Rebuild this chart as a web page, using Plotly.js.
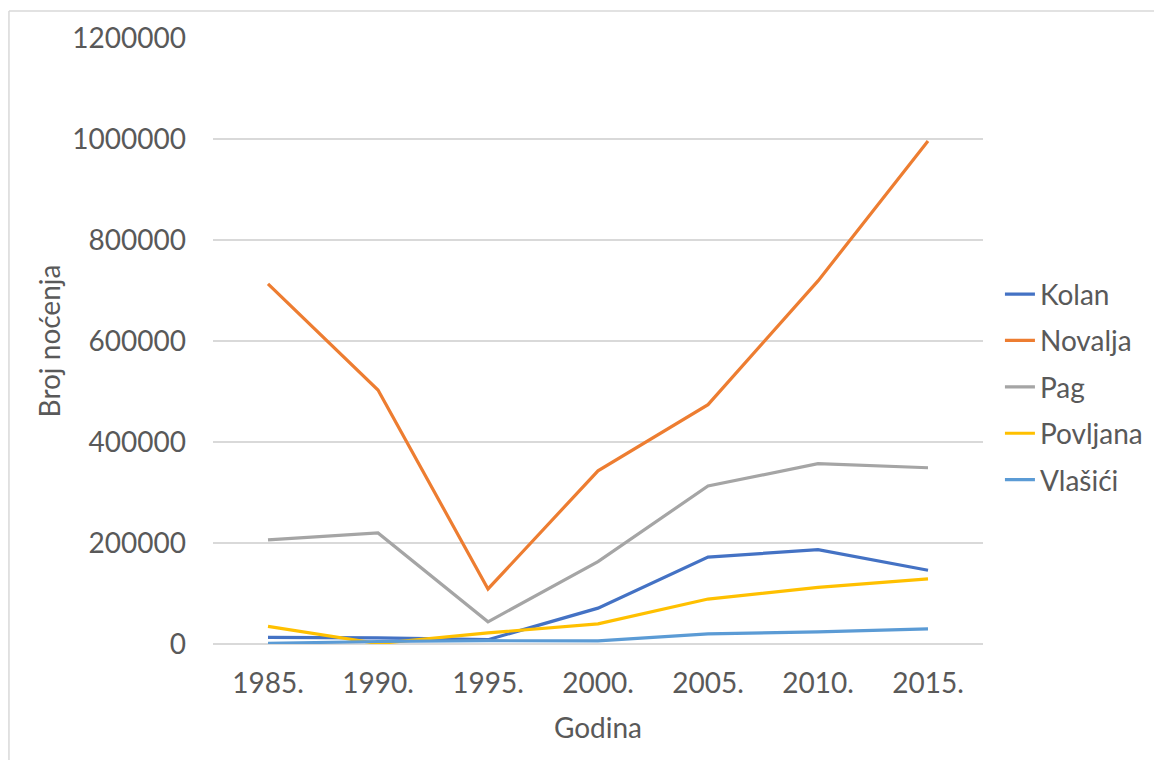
<!DOCTYPE html>
<html>
<head>
<meta charset="utf-8">
<script src="https://cdn.plot.ly/plotly-3.0.1.min.js"></script>
<style>html,body{margin:0;padding:0;background:#fff;}#chart{width:1154px;height:760px;}</style>
</head>
<body>
<div id="chart"></div>
<script>
const years = ["1985.", "1990.", "1995.", "2000.", "2005.", "2010.", "2015."];
const kolan    = [13000, 12000, 8500, 71000, 172000, 187000, 146000];
const novalja  = [713000, 503000, 109000, 343000, 474000, 719000, 996000];
const pag      = [206000, 220000, 44000, 163000, 313000, 357000, 349000];
const povljana = [35000, 1000, 22000, 40000, 89000, 112000, 129000];
const vlasici  = [1500, 5000, 6500, 6000, 20000, 24000, 30000];

const seriesNames = ["Kolan", "Novalja", "Pag", "Povljana", "Vlašići"];
const seriesData = [kolan, novalja, pag, povljana, vlasici];
const colors = ["#4472C4", "#ED7D31", "#A5A5A5", "#FFC000", "#5B9BD5"];

const font = "Lato, 'Open Sans', sans-serif";
const traces = seriesNames.map((n, i) => ({
  type: "scatter", mode: "lines", name: n, x: years, y: seriesData[i],
  legendgroup: "g" + i,
  line: {color: colors[i], width: 3.2}
}));

const layout = {
  width: 1154, height: 760,
  margin: {l: 213, r: 171, t: 38, b: 116},
  paper_bgcolor: "#fff", plot_bgcolor: "#fff",
  font: {family: font, size: 28, color: "#595959"},
  showlegend: true,
  legend: {xref: "container", yref: "container", x: 0.8665, y: 0.491, xanchor: "left", yanchor: "middle",
           font: {family: font, size: 28, color: "#595959"},
           tracegroupgap: 7, itemwidth: 30, bgcolor: "rgba(0,0,0,0)"},
  xaxis: {type: "category", range: [-0.5, 6.5], showgrid: false,
          showline: false, zeroline: false, ticks: "", ticklabelstandoff: 20,
          tickfont: {family: font, size: 28, color: "#595959"},
          title: {text: "Godina", font: {family: font, size: 28, color: "#595959"}, standoff: 20}},
  yaxis: {range: [0, 1200000], dtick: 200000, tickformat: "d",
          showgrid: true, gridcolor: "#d9d9d9", gridwidth: 1.5,
          zeroline: true, zerolinecolor: "#d9d9d9", zerolinewidth: 1.5,
          showline: false, ticks: "", ticklabelstandoff: 26,
          tickfont: {family: font, size: 28, color: "#595959"},
          title: {text: "Broj noćenja", font: {family: font, size: 28, color: "#595959"}, standoff: 3}},
  shapes: [
    {type: "line", xref: "paper", yref: "paper", x0: -0.265, x1: 1.3, y0: 1.0446, y1: 1.0446,
     line: {color: "#d9d9d9", width: 1.5}},
    {type: "line", xref: "paper", yref: "paper", x0: -0.265, x1: -0.265, y0: 1.0446, y1: -0.3,
     line: {color: "#d9d9d9", width: 1.5}}
  ]
};

Plotly.newPlot("chart", traces, layout, {displayModeBar: false, responsive: false});
</script>
</body>
</html>
